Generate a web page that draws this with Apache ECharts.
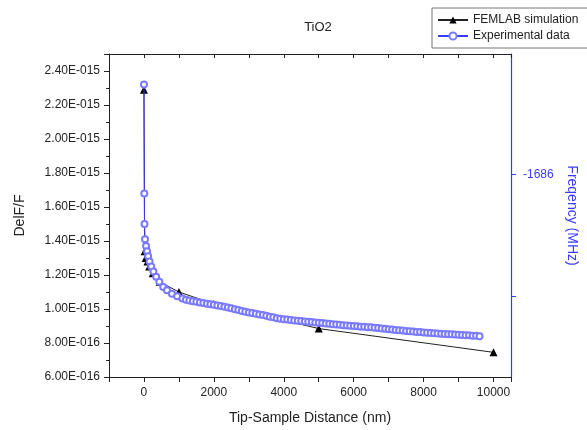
<!DOCTYPE html>
<html>
<head>
<meta charset="utf-8">
<script src="https://cdn.jsdelivr.net/npm/echarts@6/dist/echarts.min.js"></script>
<style>html,body{margin:0;padding:0;background:#fff}#c{width:587px;height:430px}</style>
</head>
<body>
<div id="c"></div>
<script>
// Values on the left axis are in units of 1e-15 (DelF/F)
const Y_UNIT = 1e-15;
const titleText = 'TiO2';
const seriesNames = ['FEMLAB simulation', 'Experimental data'];

const femX = [0, 20, 50, 100, 150, 250, 450, 1000, 2000, 5000, 10000];
const femY = [2.29, 1.34, 1.30, 1.28, 1.25, 1.21, 1.16, 1.10, 1.03, 0.885, 0.745];

const expX = [0, 10, 15, 30, 60, 90, 120, 160, 210, 270, 350, 440, 550, 660, 800, 950,
  1100, 1200, 1300, 1400, 1500, 1600, 1700, 1800, 1900, 2000, 2100, 2200, 2300, 2400, 2500,
  2600, 2700, 2800, 2900, 3000, 3100, 3200, 3300, 3400, 3500, 3600, 3700, 3800, 3900, 4000,
  4100, 4200, 4300, 4400, 4500, 4600, 4700, 4800, 4900, 5000, 5100, 5200, 5300, 5400, 5500,
  5600, 5700, 5800, 5900, 6000, 6100, 6200, 6300, 6400, 6500, 6600, 6700, 6800, 6900, 7000,
  7100, 7200, 7300, 7400, 7500, 7600, 7700, 7800, 7900, 8000, 8100, 8200, 8300, 8400, 8500,
  8600, 8700, 8800, 8900, 9000, 9100, 9200, 9300, 9400, 9500, 9600];
const expY = [2.32, 1.68, 1.50, 1.41, 1.37, 1.34, 1.31, 1.28, 1.25, 1.22, 1.19, 1.16, 1.13, 1.11, 1.09, 1.075,
  1.062, 1.055, 1.050, 1.046, 1.042, 1.038, 1.035, 1.031, 1.028, 1.025, 1.021, 1.018, 1.013, 1.009, 1.004,
  0.999, 0.994, 0.988, 0.984, 0.980, 0.976, 0.972, 0.968, 0.964, 0.960, 0.955, 0.951, 0.946, 0.943, 0.940,
  0.938, 0.935, 0.933, 0.931, 0.929, 0.927, 0.925, 0.923, 0.921, 0.919, 0.917, 0.915, 0.913, 0.911, 0.909,
  0.907, 0.905, 0.903, 0.901, 0.900, 0.898, 0.896, 0.895, 0.893, 0.892, 0.890, 0.888, 0.886, 0.884, 0.881,
  0.879, 0.877, 0.875, 0.873, 0.871, 0.869, 0.867, 0.865, 0.864, 0.862, 0.861, 0.859, 0.858, 0.856, 0.855,
  0.853, 0.852, 0.851, 0.850, 0.848, 0.847, 0.846, 0.845, 0.843, 0.842, 0.840];

const xTickLabels = [0, 2000, 4000, 6000, 8000, 10000];
const rightTickValues = [-1686, -1687];
const rightLabelValues = [-1686];

const FONT = '"Liberation Sans", Arial, sans-serif';
const BLUE = '#3a3aff';

function fmtSci(v) {
  const s = (v * Y_UNIT).toExponential(2); // e.g. 2.40e-15
  const parts = s.split('e');
  const ex = parseInt(parts[1], 10);
  const sign = ex < 0 ? '-' : '+';
  const digits = String(Math.abs(ex)).padStart(3, '0');
  return parts[0] + 'E' + sign + digits;
}

const chart = echarts.init(document.getElementById('c'), null, {renderer: 'canvas'});
chart.setOption({
  animation: false,
  backgroundColor: '#fff',
  textStyle: {fontFamily: FONT},
  title: {
    text: titleText, left: 313, top: 16, textAlign: 'center',
    textStyle: {fontFamily: FONT, fontSize: 13, fontWeight: 'normal', color: '#222'}
  },
  legend: {
    data: seriesNames,
    orient: 'vertical',
    left: 432, top: 8,
    padding: [6, 11, 6, 5],
    itemGap: 4,
    itemWidth: 30, itemHeight: 9,
    borderColor: '#777', borderWidth: 1, borderRadius: 0,
    backgroundColor: '#fff',
    textStyle: {fontFamily: FONT, fontSize: 12, color: '#222'}
  },
  grid: {left: 109, right: 69, top: 54, bottom: 53, containLabel: false},
  xAxis: [{
    type: 'value', position: 'bottom',
    min: -1000, max: 10500, interval: 1000,
    name: 'Tip-Sample Distance (nm)', nameLocation: 'middle', nameGap: 34,
    nameTextStyle: {fontFamily: FONT, fontSize: 14, color: '#222'},
    axisLine: {show: true, onZero: false, lineStyle: {color: '#222', width: 1}},
    axisTick: {show: true, inside: false, length: 5, lineStyle: {color: '#222'}},
    axisLabel: {
      margin: 10, fontFamily: FONT, fontSize: 12, color: '#222',
      formatter: v => (xTickLabels.indexOf(v) >= 0 ? String(v) : '')
    },
    splitLine: {show: false}
  }, {
    type: 'value', position: 'top',
    min: -1000, max: 10500, interval: 1000,
    axisLine: {show: true, onZero: false, lineStyle: {color: '#222', width: 1}},
    axisTick: {show: true, inside: true, length: 4, lineStyle: {color: '#222'}},
    axisLabel: {show: false},
    splitLine: {show: false}
  }],
  yAxis: [{
    type: 'value', position: 'left',
    min: 0.6, max: 2.5, interval: 0.2,
    name: 'DelF/F', nameLocation: 'middle', nameGap: 82, nameRotate: 90,
    nameTextStyle: {fontFamily: FONT, fontSize: 14, color: '#222'},
    axisLine: {show: true, onZero: false, lineStyle: {color: '#222', width: 1}},
    axisTick: {show: true, inside: false, length: 5, lineStyle: {color: '#222'}},
    minorTick: {show: true, splitNumber: 2, length: 3, lineStyle: {color: '#222'}},
    axisLabel: {
      margin: 9, fontFamily: FONT, fontSize: 12, color: '#222',
      formatter: v => (Math.abs(Math.round(v * 5) - v * 5) > 1e-6 ? '' : fmtSci(v))
    },
    splitLine: {show: false},
    minorSplitLine: {show: false}
  }, {
    type: 'value', position: 'right',
    min: -1687.66, max: -1685.01,
    name: 'Freqency (MHz)', nameLocation: 'middle', nameGap: 54, nameRotate: -90,
    nameTextStyle: {fontFamily: FONT, fontSize: 14, color: BLUE},
    axisLine: {show: true, onZero: false, lineStyle: {color: BLUE, width: 1.2}},
    axisTick: {show: true, inside: false, length: 5, customValues: rightTickValues, lineStyle: {color: BLUE}},
    axisLabel: {
      margin: 12, fontFamily: FONT, fontSize: 12, color: BLUE,
      customValues: rightLabelValues,
      formatter: v => String(v)
    },
    splitLine: {show: false}
  }],
  series: [{
    name: seriesNames[0],
    type: 'line',
    xAxisIndex: 0, yAxisIndex: 0,
    data: femX.map((x, i) => [x, femY[i]]),
    symbol: 'triangle', symbolSize: 8,
    showAllSymbol: true,
    lineStyle: {color: '#222', width: 1},
    itemStyle: {color: '#000'},
    z: 2
  }, {
    name: seriesNames[1],
    type: 'line',
    xAxisIndex: 0, yAxisIndex: 0,
    data: expX.map((x, i) => [x, expY[i]]),
    symbol: 'emptyCircle', symbolSize: 6,
    showAllSymbol: true,
    lineStyle: {color: BLUE, width: 1},
    itemStyle: {color: '#7a7aff', borderColor: '#7a7aff', borderWidth: 1},
    z: 3
  }]
});
</script>
</body>
</html>
